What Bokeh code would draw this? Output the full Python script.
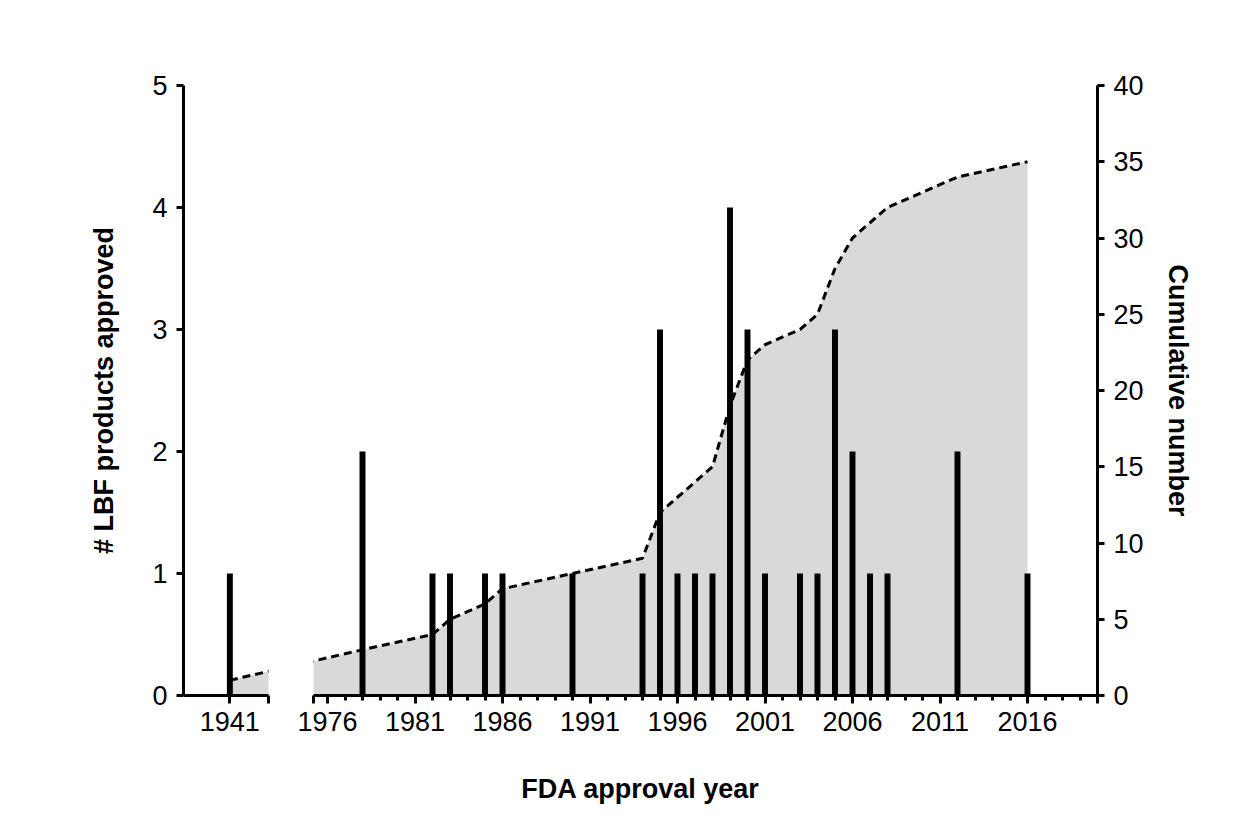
import numpy as np
from bokeh.plotting import figure
from bokeh.layouts import row
from bokeh.models import (Range1d, LinearAxis, FixedTicker, PrintfTickFormatter,
                          Title, ColumnDataSource)
from bokeh.embed import file_html
from bokeh.resources import INLINE

# ---------------- data ----------------
years = [1941, 1978, 1982, 1983, 1985, 1986, 1990, 1994, 1995, 1996, 1997, 1998,
         1999, 2000, 2001, 2003, 2004, 2005, 2006, 2007, 2008, 2012, 2016]
counts = [1, 2, 1, 1, 1, 1, 1, 1, 3, 1, 1, 1,
          4, 3, 1, 1, 1, 3, 2, 1, 1, 2, 1]
left_tick_years = [1941]
right_tick_years = [1976, 1981, 1986, 1991, 1996, 2001, 2006, 2011, 2016]
right_minor_years = list(range(1976, 2021))
y_left_ticks = [0, 1, 2, 3, 4, 5]
y_right_ticks = [0, 5, 10, 15, 20, 25, 30, 35, 40]
x_title = "FDA approval year"
y_left_title = "# LBF products approved"
y_right_title = "Cumulative number"

# ---------------- layout constants ----------------
FONT = "Liberation Sans"
TICK_FS = "27px"
TITLE_FS = "27px"
PX_PER_YEAR = 17.5
L_START, L_END = 1938.35, 1943.21   # left axis segment (years)
R_START, R_END = 1975.2, 2020.0     # right axis segment (years)
GAP_PX = 45
FRAME_H = 610
TOP, BOTTOM = 85, 142
LEFT_BORDER, RIGHT_BORDER = 183, 146
FW_L = int(round((L_END - L_START) * PX_PER_YEAR))
FW_R = int(round((R_END - R_START) * PX_PER_YEAR))
SHIFT = R_START - L_END - GAP_PX / PX_PER_YEAR

xpos = [y + SHIFT if y <= L_END else y for y in years]
cum = np.cumsum(counts)
src = ColumnDataSource(dict(x=xpos, top=counts, cum=cum))

in_left = [y <= L_END for y in years]
bars_left = ColumnDataSource(dict(x=[x for x, f in zip(xpos, in_left) if f],
                                  top=[c for c, f in zip(counts, in_left) if f]))
bars_right = ColumnDataSource(dict(x=[x for x, f in zip(xpos, in_left) if not f],
                                   top=[c for c, f in zip(counts, in_left) if not f]))

AREA = "#d9d9d9"


def style_axis(ax, tick_out=7):
    ax.axis_line_width = 3
    ax.axis_line_color = "black"
    ax.major_tick_line_width = 3
    ax.major_tick_line_color = "black"
    ax.major_tick_out = tick_out
    ax.major_tick_in = 0
    ax.minor_tick_line_width = 3
    ax.minor_tick_line_color = "black"
    ax.minor_tick_out = 5
    ax.minor_tick_in = 0
    ax.major_label_text_font = FONT
    ax.major_label_text_font_size = TICK_FS
    ax.major_label_text_color = "black"
    ax.major_label_standoff = 9
    ax.axis_label_text_font = FONT
    ax.axis_label_text_font_size = TITLE_FS
    ax.axis_label_text_font_style = "bold"
    ax.axis_label_text_color = "black"
    ax.axis_label_standoff = 31


def draw(p, bars):
    p.extra_y_ranges = {"cum": Range1d(0, 40)}
    p.varea(x="x", y1=0, y2="cum", source=src, y_range_name="cum",
            fill_color=AREA, fill_alpha=1.0)
    p.line(x="x", y="cum", source=src, y_range_name="cum", line_color="black",
           line_width=3, line_dash="8 5")
    p.vbar(x="x", top="top", bottom=0, width=0.34, source=bars,
           fill_color="black", line_color="black", line_width=0)
    p.xgrid.visible = False
    p.ygrid.visible = False
    p.outline_line_color = None
    p.background_fill_color = "white"
    p.border_fill_color = "white"


# ---------------- left segment ----------------
pL = figure(frame_width=FW_L, frame_height=FRAME_H,
            x_range=Range1d(L_START + SHIFT, L_END + SHIFT), y_range=Range1d(0, 5),
            min_border_left=LEFT_BORDER, min_border_right=GAP_PX // 2,
            min_border_top=TOP, min_border_bottom=BOTTOM,
            toolbar_location=None, output_backend="svg")
draw(pL, bars_left)
axL = pL.xaxis[0]
axL.ticker = FixedTicker(ticks=[y + SHIFT for y in left_tick_years] + [L_END + SHIFT],
                         minor_ticks=[])
ov = {y + SHIFT: str(y) for y in left_tick_years}
ov[L_END + SHIFT] = ""
axL.major_label_overrides = ov
style_axis(axL, tick_out=8)
axL.major_label_standoff = 8
ayL = pL.yaxis[0]
ayL.ticker = FixedTicker(ticks=y_left_ticks, minor_ticks=[])
ayL.axis_label = y_left_title
style_axis(ayL)
ayL.axis_label_standoff = 30

# ---------------- right segment ----------------
pR = figure(frame_width=FW_R, frame_height=FRAME_H,
            x_range=Range1d(R_START, R_END), y_range=Range1d(0, 5),
            y_axis_location=None,
            min_border_left=GAP_PX - GAP_PX // 2, min_border_right=RIGHT_BORDER,
            min_border_top=TOP, min_border_bottom=BOTTOM,
            toolbar_location=None, output_backend="svg")
draw(pR, bars_right)
axR = pR.xaxis[0]
axR.ticker = FixedTicker(ticks=[R_START] + right_tick_years + [R_END],
                         minor_ticks=right_minor_years)
axR.formatter = PrintfTickFormatter(format="%d")
axR.major_label_overrides = {R_START: "", R_END: ""}
style_axis(axR, tick_out=8)
axR.major_label_standoff = 8

ayR = LinearAxis(y_range_name="cum", ticker=FixedTicker(ticks=y_right_ticks, minor_ticks=[]),
                 axis_label=y_right_title)
style_axis(ayR)
ayR.axis_label_standoff = 16
pR.add_layout(ayR, "right")

# x-axis title centred under the whole broken axis (left-aligned title with offset)
axis_left_px = LEFT_BORDER
axis_right_px = LEFT_BORDER + FW_L + GAP_PX + FW_R
center_px = (axis_left_px + axis_right_px) / 2
r_frame_left = LEFT_BORDER + FW_L + GAP_PX
approx_text_w = 8.836 * 27          # Liberation Sans Bold advance widths (em) x font size
pR.add_layout(Title(text=x_title, align="left",
                    offset=center_px - r_frame_left - approx_text_w / 2,
                    standoff=76, text_font=FONT, text_font_size=TITLE_FS,
                    text_font_style="bold", text_color="black"), "below")

layout = row(pL, pR)
open("out.html", "w").write(file_html(layout, INLINE, title="LBF approvals"))
